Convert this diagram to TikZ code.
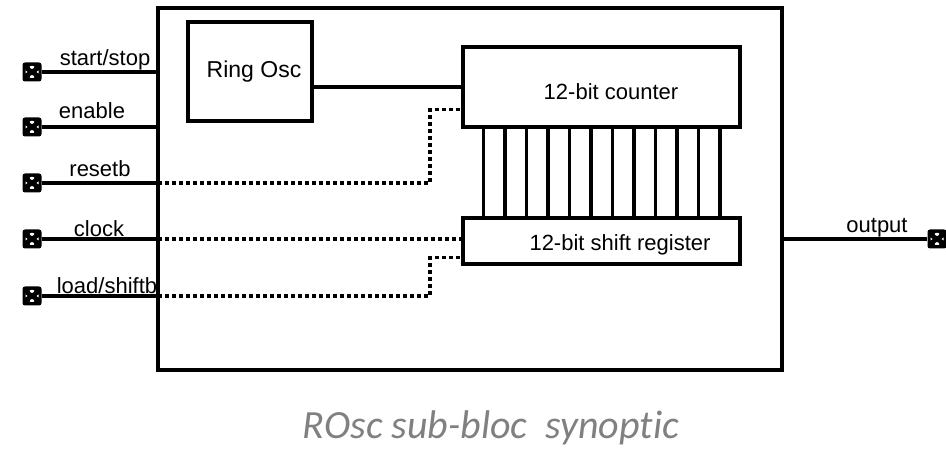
\documentclass[tikz,border=0pt]{standalone}
\usepackage{fontspec}
\setmainfont{Liberation Sans}
\newfontfamily\captionfont[Ligatures=NoCommon]{Carlito}
\usetikzlibrary{positioning,calc}

\tikzset{
    wire/.style={line width=3.5pt},
    sig/.style={line width=3.5pt, dash pattern=on 4pt off 3pt},
    blk/.style={draw, line width=3.5pt, inner sep=0pt},
    padbox/.style={fill=black, rounded corners=2.5pt, minimum size=19pt, inner sep=0pt,
        path picture={
            \coordinate (pc) at (path picture bounding box.center);
            \fill[white] ($(pc)+(-3.5,-6)$) -- ++(7,0) -- ($(pc)+(0,-2)$) -- cycle;
            \fill[white] ($(pc)+(-3.5,6)$) -- ++(7,0) -- ($(pc)+(0,2)$) -- cycle;
            \fill[white] ($(pc)+(-6.5,-1.5)$) -- ++(0,3) -- ($(pc)+(-4.5,0)$) -- cycle;
            \fill[white] ($(pc)+(6.5,-1.5)$) -- ++(0,3) -- ($(pc)+(4.5,0)$) -- cycle;
        }},
    lbl/.style={anchor=base, inner sep=0pt, font=\fontsize{22}{26}\selectfont},
}

\begin{document}
\begin{tikzpicture}[x=1pt, y=-1pt]
    \path[use as bounding box, fill=white] (0,0) rectangle (946,449);

    \node[blk, minimum width=624, minimum height=362] (bloc) at (470,189) {};
    \node[blk, minimum width=124, minimum height=99] (ringosc) at (250,71.5) {};
    \node[blk, minimum width=277, minimum height=80] (counter) at (601.5,87) {};
    \node[blk, minimum width=277, minimum height=46] (shreg) at (601.5,241) {};

    \node[padbox] (pstart) at (32,72) {};
    \node[padbox] (pena) at (32,127) {};
    \node[padbox] (prst) at (32,183) {};
    \node[padbox] (pclk) at (32,239) {};
    \node[padbox] (pload) at (32,296) {};
    \node[padbox] (pout) at (937,239) {};

    \coordinate (jog) at (430,0);
    \coordinate (rstin) at ([yshift=19]counter.south west);
    \coordinate (loadin) at ([yshift=8]shreg.south west);

    \draw[wire] (pstart.east) -- (pstart -| bloc.west);
    \draw[wire] (pena.east) -- (pena -| bloc.west);
    \draw[wire] (prst.east) -- (prst -| bloc.west);
    \draw[wire] (pclk.east) -- (pclk -| bloc.west);
    \draw[wire] (pload.east) -- (pload -| bloc.west);
    \draw[wire] (pout -| bloc.east) -- (pout.west);
    \draw[wire] (counter.west -| ringosc.east) -- (counter.west);

    \draw[sig] ([xshift=2]prst -| bloc.west) -| (jog |- rstin) -- (rstin);
    \draw[sig] ([xshift=2]pclk -| bloc.west) -- (pclk -| shreg.west);
    \draw[sig] ([xshift=2]pload -| bloc.west) -| (jog |- loadin) -- (loadin);

    \foreach \k in {0,...,11}
        \draw[wire] ([xshift=22+\k*21.5]counter.south west) -- ([xshift=22+\k*21.5]shreg.north west);

    \node[lbl, anchor=center, font=\fontsize{23}{27}\selectfont] (tring) at (254,72) {Ring Osc};
    \node[lbl] (tcnt) at (611,100) {12-bit counter};
    \node[lbl] (tshr) at (620,251) {12-bit shift register};

    \node[lbl] (lstart) at (105,66) {start/stop};
    \node[lbl] (lena) at (92,119) {enable};
    \node[lbl] (lrst) at (100,177) {resetb};
    \node[lbl] (lclk) at (99,237) {clock};
    \node[lbl] (lload) at (107,294) {load/shiftb};
    \node[lbl] (lout) at (877,233) {output};

    \node[anchor=base, inner sep=0pt, text=black!50, font=\captionfont\itshape\fontsize{40}{46}\selectfont] (title) at (491,438) {ROsc sub-bloc\ \ synoptic};
\end{tikzpicture}
\end{document}
